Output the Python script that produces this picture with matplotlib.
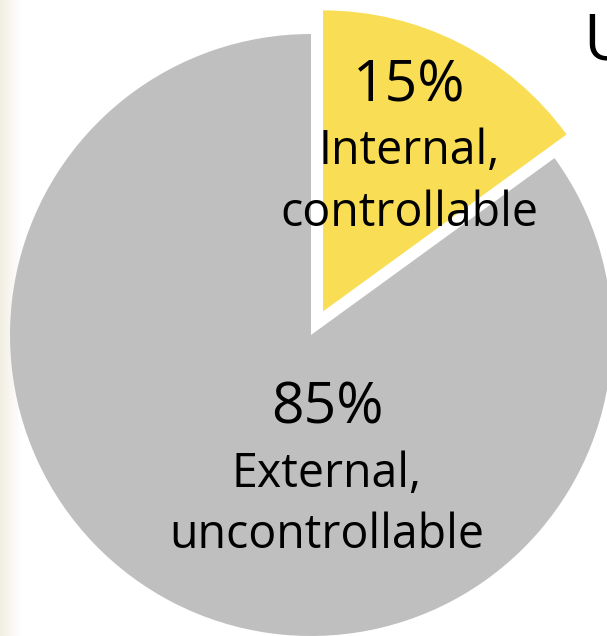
import numpy as np
import matplotlib.pyplot as plt
from matplotlib.colors import LinearSegmentedColormap

# %% Style
YELLOW = "#F9DE55"
GRAY = "#BFBFBF"
FONT = ["Open Sans", "DejaVu Sans"]
W, H = 607, 636

plt.rcParams.update({"font.family": FONT})

# %% Data
shares = [15, 85]
labels = ["Internal,\ncontrollable", "External,\nuncontrollable"]
colors = [YELLOW, GRAY]
title_text = "U"

# %% Plot
fig = plt.figure(figsize=(W / 100, H / 100), dpi=100)
ax = fig.add_axes([0, 0, 1, 1])

# faint beige strip on the left edge
strip = LinearSegmentedColormap.from_list("strip", ["#F1EEE3", "#FFFFFF"])
ax.imshow(np.linspace(0, 1, 64).reshape(1, -1), cmap=strip, aspect="auto",
          extent=(0, 22, 0, H), zorder=0)

cx, cy, r = 311, H - 335, 301
ax.pie(shares, colors=colors, startangle=90, counterclock=False,
       center=(cx, cy), radius=r, explode=[26.5, 0],
       wedgeprops=dict(linewidth=0), frame=True)
ax.set_xlim(0, W)
ax.set_ylim(0, H)
ax.set_aspect("equal")
ax.axis("off")

# value + description, placed inside each slice
spots = [(409, 102, 164, 226), (327, 424, 487, 548)]
for v, lab, (x, yv, y1, y2) in zip(shares, labels, spots):
    ax.text(x, H - yv, f"{v}%", ha="center", va="baseline", fontsize=41)
    l1, l2 = lab.split("\n")
    ax.text(x, H - y1, l1, ha="center", va="baseline", fontsize=33.5)
    ax.text(x, H - y2, l2, ha="center", va="baseline", fontsize=33.5)

ax.text(583, H - 60, title_text, ha="left", va="baseline", fontsize=46)

fig.savefig("out.png", dpi=100)
